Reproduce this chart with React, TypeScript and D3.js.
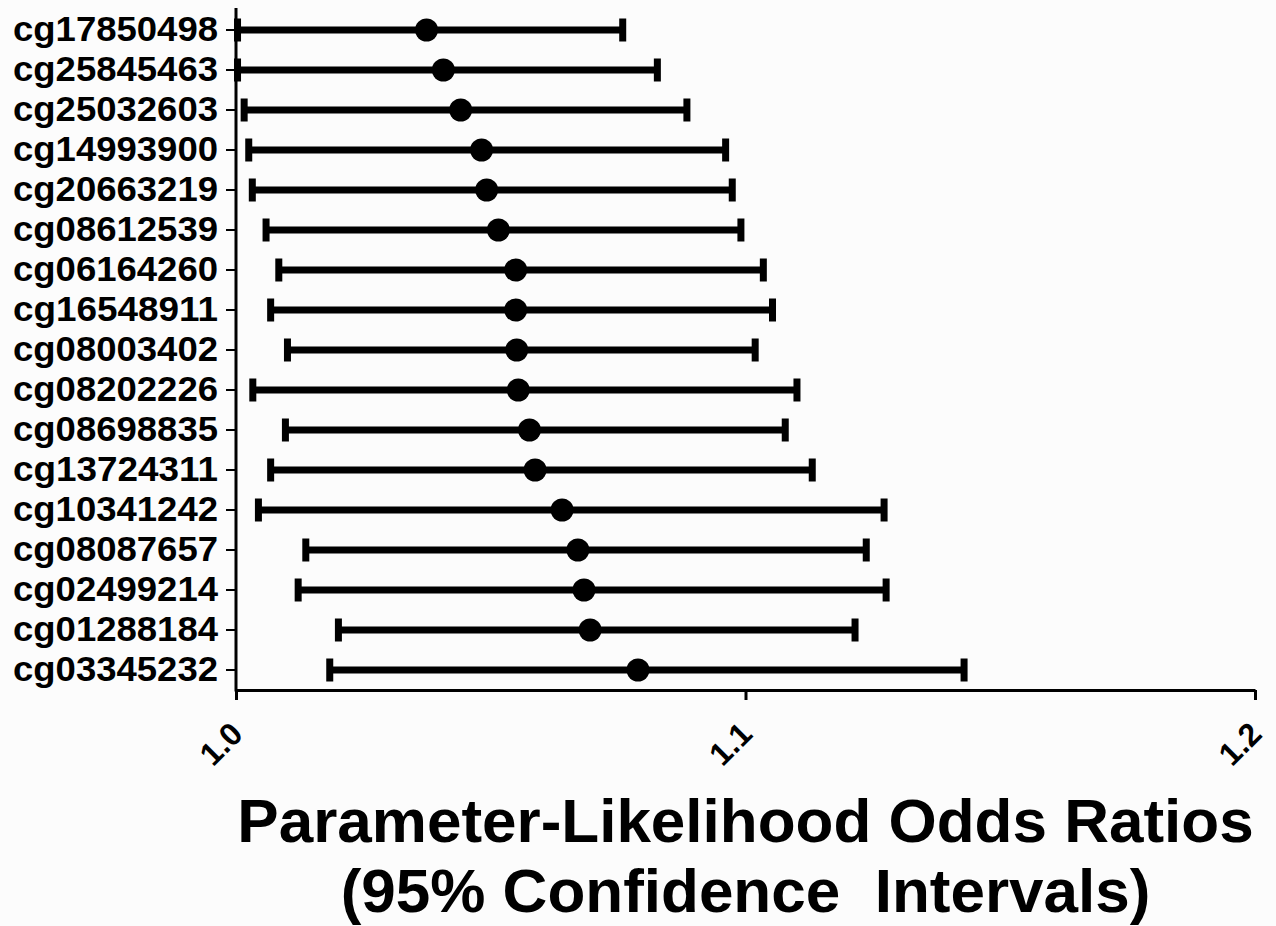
import * as d3 from 'd3';
import { useEffect, useRef } from 'react';

// CpG probes, top to bottom
const probes = [
    'cg17850498', 'cg25845463', 'cg25032603', 'cg14993900', 'cg20663219',
    'cg08612539', 'cg06164260', 'cg16548911', 'cg08003402', 'cg08202226',
    'cg08698835', 'cg13724311', 'cg10341242', 'cg08087657', 'cg02499214',
    'cg01288184', 'cg03345232'
];
const oddsRatio = [
    1.0374, 1.0407, 1.0441, 1.0482, 1.0492,
    1.0515, 1.0549, 1.0549, 1.0551, 1.0554,
    1.0576, 1.0587, 1.0640, 1.0671, 1.0683,
    1.0695, 1.0789
];
const ciLower = [
    1.0003, 1.0003, 1.0016, 1.0025, 1.0032,
    1.0059, 1.0084, 1.0068, 1.0101, 1.0033,
    1.0097, 1.0068, 1.0044, 1.0137, 1.0122,
    1.0201, 1.0184
];
const ciUpper = [
    1.0759, 1.0827, 1.0885, 1.0961, 1.0974,
    1.0991, 1.1035, 1.1053, 1.1019, 1.1101,
    1.1078, 1.1131, 1.1272, 1.1237, 1.1276,
    1.1215, 1.1429
];
const xTicks = [1.0, 1.1, 1.2];
const titleLines = ['Parameter-Likelihood Odds Ratios', '(95% Confidence  Intervals)'];

export default function App() {
    const ref = useRef<HTMLDivElement>(null);

    useEffect(() => {
        const width = 1276;
        const height = 926;
        const font = "'Liberation Sans', Arial, Helvetica, sans-serif";
        const plot = { left: 236, right: 1255, top: 10, bottom: 690 };

        const rows = probes.map((p, i) => ({
            probe: p,
            or: oddsRatio[i],
            lo: ciLower[i],
            hi: ciUpper[i]
        }));

        const svg = d3
            .create('svg')
            .attr('width', width)
            .attr('height', height)
            .style('position', 'absolute')
            .style('left', '0px')
            .style('top', '0px')
            .style('background', '#fcfcfc');

        const x = d3.scaleLinear().domain([1.0, 1.2]).range([plot.left, plot.right]);
        const y = d3.scaleBand().domain(probes).range([plot.top, plot.bottom]).padding(0);
        const cy = (p: string) => (y(p) as number) + y.bandwidth() / 2;

        // y axis
        const yAxis = svg
            .append('g')
            .attr('transform', `translate(${plot.left},0)`)
            .call(d3.axisLeft(y).tickSize(10).tickSizeOuter(0).tickPadding(8));
        yAxis.select('.domain').remove();
        yAxis.selectAll('.tick line').attr('stroke', '#000').attr('stroke-width', 2);
        yAxis
            .selectAll('.tick text')
            .attr('fill', '#000')
            .attr('font-family', font)
            .attr('font-weight', 'bold')
            .attr('font-size', 35)
            .attr('textLength', 205)
            .attr('lengthAdjust', 'spacingAndGlyphs');
        svg
            .append('line')
            .attr('x1', plot.left)
            .attr('x2', plot.left)
            .attr('y1', 8)
            .attr('y2', plot.bottom + 1.5)
            .attr('stroke', '#000')
            .attr('stroke-width', 3);

        // x axis
        const xAxis = svg
            .append('g')
            .attr('transform', `translate(0,${plot.bottom})`)
            .call(d3.axisBottom(x).tickValues(xTicks).tickSize(10).tickSizeOuter(0).tickFormat(d3.format('.1f')));
        xAxis.select('.domain').attr('stroke', '#000').attr('stroke-width', 3);
        xAxis.selectAll('.tick line').attr('stroke', '#000').attr('stroke-width', 3);
        xAxis
            .selectAll('.tick text')
            .attr('fill', '#000')
            .attr('font-family', font)
            .attr('font-weight', 'bold')
            .attr('font-size', 32)
            .attr('text-anchor', 'end')
            .attr('y', 0)
            .attr('dy', 0)
            .attr('transform', 'translate(8,46) rotate(-45)');

        // whiskers
        const g = svg.selectAll('g.row').data(rows).join('g').attr('class', 'row');

        g.append('line')
            .attr('x1', d => x(d.lo))
            .attr('x2', d => x(d.hi))
            .attr('y1', d => cy(d.probe))
            .attr('y2', d => cy(d.probe))
            .attr('stroke', '#000')
            .attr('stroke-width', 7);

        g.selectAll('rect.cap')
            .data(d => [d.lo, d.hi].map(v => ({ v, p: d.probe })))
            .join('rect')
            .attr('class', 'cap')
            .attr('x', d => x(d.v) - 3.5)
            .attr('y', d => cy(d.p) - 11.5)
            .attr('width', 7)
            .attr('height', 23)
            .attr('fill', '#000');

        g.append('circle')
            .attr('cx', d => x(d.or))
            .attr('cy', d => cy(d.probe))
            .attr('r', 11.5)
            .attr('fill', '#000');

        // title
        svg
            .selectAll('text.title')
            .data(titleLines)
            .join('text')
            .attr('class', 'title')
            .attr('x', (plot.left + plot.right) / 2)
            .attr('y', (d, i) => 842 + i * 70)
            .attr('text-anchor', 'middle')
            .attr('font-family', font)
            .attr('font-weight', 'bold')
            .attr('font-size', 62)
            .attr('fill', '#000')
            .style('white-space', 'pre')
            .text(d => d);

        ref.current?.append(svg.node() as SVGSVGElement);
        return () => {
            ref.current?.replaceChildren();
        };
    }, []);

    return <div ref={ref}></div>;
}
